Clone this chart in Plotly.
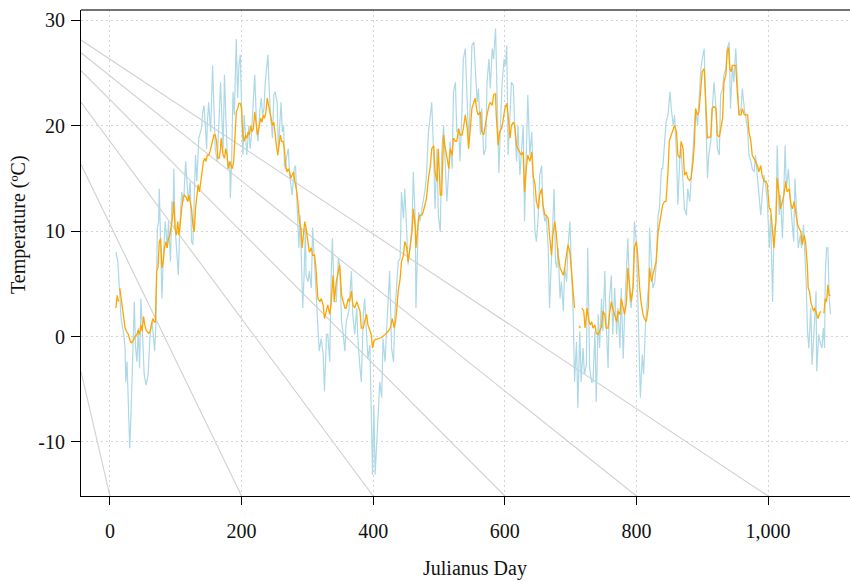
import plotly.graph_objects as go

# ---------------- data ----------------
blue_days = [9,12,17,19,21,23,24,26,27,28,30,32,34,35,37,39,41,43,45,47,49,52,55,58,61,64,68,70,72,74,75,77,79,81,84,87,89,92,94,96,97,99,101,104,106,109,112,115,119,122,124,126,128,130,132,135,139,141,143,145,147,148,150,153,156,160,163,166,168,172,174,176,179,182,183,185,187,189,190,192,194,196,198,200,202,204,206,208,211,213,215,220,223,225,228,230,232,234,236,239,240,242,244,247,249,251,254,256,258,260,262,264,265,267,268,271,273,275,277,280,282,285,287,289,291,293,295,297,
             298,301,303,306,308,311,313,316,318,321,324,326,329,331,334,336,338,341,344,347,349,352,354,357,359,363,367,369,372,375,377,380,382,385,387,390,392,395,397,399,401,403,405,408,410,413,415,418,420,423,425,428,431,433,436,438,441,443,446,448,451,453,456,459,461,464,465,467,469,471,474,476,479,481,484,487,489,492,494,497,499,502,504,507,509,512,515,517,520,522,525,527,530,532,535,537,540,543,545,548,550,553,555,558,560,563,565,568,571,573,576,578,581,583,586,588,
             591,594,596,599,601,603,605,608,610,613,615,618,620,623,625,628,630,633,635,638,641,643,646,648,651,653,656,658,661,663,666,668,671,673,675,677,679,681,684,686,689,691,694,696,699,701,704,706,709,711,714,716,719,721,724,726,728,729,732,734,737,739,742,744,747,749,752,754,757,759,762,764,767,770,772,775,777,780,782,785,787,790,792,795,797,800,802,805,806,809,811,814,816,819,820,823,825,828,830,833,835,838,840,843,845,848,851,853,856,858,861,863,866,868,871,873,876,878,881,883,886,
             890,893,895,898,900,903,905,908,910,913,916,918,921,923,926,928,931,933,936,938,941,943,946,948,951,954,956,959,961,964,966,969,971,974,976,979,981,984,986,989,992,994,997,999,1002,1004,1007,1009,1012,1014,1017,1019,1022,1024,1026,1028,1031,1034,1036,1039,1041,1044,1046,1049,1051,1054,1056,1058,1060,1062,1065,1067,1070,1073,1074,1077,1079,1082,1084,1086,1087,1089,1091,1093,1095]
blue_temp = [8.0,7.1,1.7,1.1,0.2,-1.1,-4.3,-2.4,-4.3,-7.4,-10.6,-7.4,-4.3,-1.1,3.3,-1.1,-2.4,0.8,-3.0,3.6,1.1,-3.6,-4.6,-3.6,0.2,1.4,-1.4,1.4,10.3,10.9,14.0,9.6,3.6,7.4,10.9,8.4,10.9,7.1,12.8,12.1,15.9,10.3,8.4,5.8,10.3,13.7,12.8,16.6,12.8,14.7,9.0,8.7,12.8,17.2,14.7,18.8,19.7,21.3,21.9,19.7,17.8,20.3,22.2,19.4,25.7,17.8,16.6,21.0,24.1,17.8,24.8,21.0,15.9,16.6,13.1,16.9,23.2,21.0,24.8,28.2,22.6,25.7,26.7,21.0,17.2,21.0,18.5,17.2,20.0,17.8,19.1,24.8,19.7,18.5,21.6,22.6,21.0,21.6,24.1,26.0,26.7,23.5,21.0,18.8,22.9,23.2,22.2,17.8,19.7,22.2,19.4,20.0,16.2,15.9,16.9,17.8,15.3,14.0,13.4,15.9,16.2,11.5,8.4,11.5,5.8,2.7,5.8,10.3,
             5.8,5.2,6.2,4.6,10.3,6.5,4.6,0.8,-1.4,-0.2,-1.7,-5.2,0.2,0.2,-2.4,5.2,9.3,3.3,3.3,7.4,6.8,1.4,0.5,-1.4,1.4,2.4,6.2,2.1,0.2,2.7,-0.5,-3.0,-4.3,2.1,3.6,0.2,-2.1,-0.8,-7.4,-13.1,-6.5,-13.1,-10.6,-7.4,-4.3,-5.8,-0.2,-2.4,0.5,3.3,6.2,-1.1,-2.4,2.1,4.6,7.1,7.4,13.7,11.2,14.0,9.9,6.8,8.4,10.6,15.6,10.9,2.7,8.4,11.8,10.9,12.1,12.8,14.0,15.3,19.4,21.0,22.2,17.2,12.1,17.8,11.5,9.9,17.2,20.0,16.6,12.8,15.9,18.5,15.9,23.2,24.1,19.4,19.7,16.6,21.6,26.3,27.3,21.0,18.5,22.6,27.6,27.9,25.7,22.2,23.5,19.1,21.6,17.2,17.8,24.1,26.3,23.5,27.3,26.3,29.2,22.2,
             15.5,21.0,24.1,26.3,25.7,27.6,17.2,21.0,24.1,23.8,20.0,16.6,20.0,15.3,17.5,20.0,10.9,17.8,22.9,17.2,19.4,15.3,9.9,9.0,11.5,15.3,16.2,12.1,10.9,11.5,8.4,2.7,8.4,11.5,14.0,7.1,6.5,8.4,3.6,5.2,2.4,6.5,5.2,8.4,10.9,6.8,2.1,-4.3,-0.5,-6.8,0.5,-4.3,-1.1,-3.6,-2.7,8.4,-1.1,-3.0,-4.3,-4.3,0.5,-6.2,2.1,-1.1,3.6,0.5,6.2,1.4,-3.0,3.6,5.8,0.2,4.6,0.2,2.7,-1.1,4.6,-2.1,2.1,5.8,9.3,3.6,2.7,5.2,10.9,9.0,3.3,-2.7,-5.8,-1.7,-3.6,1.4,3.0,5.2,10.3,6.5,4.6,5.2,6.8,11.5,12.1,15.9,15.9,18.5,20.3,21.0,23.2,21.6,20.0,21.0,17.2,12.5,16.9,17.8,14.7,12.1,11.5,14.0,12.8,14.7,18.5,
             21.6,20.0,22.2,25.4,26.3,27.3,22.2,15.0,17.2,18.5,22.2,24.1,21.6,17.8,17.2,22.9,23.5,24.8,25.4,27.3,27.9,21.6,25.7,24.1,27.3,22.9,21.0,21.6,23.5,21.6,20.7,19.7,17.2,16.6,15.9,15.6,17.2,15.0,14.0,11.5,14.0,15.3,14.0,12.8,8.4,11.5,3.3,9.9,10.9,18.1,11.5,13.4,9.3,14.7,18.1,14.0,15.9,12.8,11.5,9.0,15.0,11.5,8.4,9.6,8.4,10.6,8.4,5.2,0.5,-1.1,2.7,-2.7,0.5,4.3,-3.3,0.2,-0.5,-1.1,0.8,-1.1,5.8,8.4,8.4,3.6,2.1]

orange_days = [9,11,13,None,15,17,19,21,23,25,28,31,33,36,38,41,43,45,47,49,51,53,55,59,61,63,65,67,69,71,73,75,77,79,81,83,85,87,89,91,93,95,97,99,101,103,105,107,109,111,113,116,118,120,122,124,126,128,130,132,134,136,138,140,142,144,146,148,150,152,154,156,158,160,162,164,166,168,169,172,174,176,178,180,182,184,186,188,190,192,194,196,198,200,202,204,206,208,210,212,214,216,218,220,222,224,227,229,231,233,235,237,239,241,243,245,247,249,251,253,255,257,259,261,263,265,267,269,271,273,275,277,279,281,284,286,288,290,292,294,
               296,298,301,303,306,308,311,313,316,319,321,324,326,329,331,334,336,339,341,344,347,349,352,354,357,359,362,364,367,369,372,375,377,380,382,385,387,390,392,395,397,399,401,403,408,413,418,423,426,429,432,434,436,438,441,443,446,448,451,453,456,459,461,464,465,467,469,471,474,476,479,481,484,487,489,492,494,497,499,502,504,507,509,512,515,517,520,522,525,527,530,532,535,537,540,543,545,548,550,553,555,558,560,563,565,568,570,573,576,578,581,583,586,
               587,590,592,595,597,600,603,605,608,610,613,615,618,620,623,625,628,630,633,635,638,641,643,646,648,651,653,656,658,661,663,666,668,671,673,676,678,681,684,686,689,691,694,696,699,701,704,706,None,713,715,None,717,720,722,725,728,730,732,734,737,739,742,744,747,749,752,754,757,759,762,764,767,770,772,775,777,780,782,785,787,790,792,795,797,800,802,805,807,810,812,815,818,820,823,825,828,830,833,835,838,840,843,845,848,850,853,856,858,861,863,866,868,871,873,876,878,881,883,886,888,
               890,893,895,898,900,903,905,908,910,913,915,918,921,923,926,928,931,933,936,938,940,942,944,946,948,951,953,956,959,961,964,966,969,971,974,976,979,981,984,986,989,991,994,997,999,1002,1004,1007,1009,1012,1014,1017,1019,1022,1024,1027,1029,1032,1035,1037,1040,1042,1045,1047,1050,1052,1055,1057,1060,1061,1063,1065,1067,1069,1071,1074,1076,1078,1080,None,1085,1087,1089,1091,1093,1095]
orange_temp = [2.7,3.9,3.3,None,4.6,3.6,2.7,1.4,0.8,0.5,0.2,-0.5,-0.6,-0.3,0.0,0.2,0.6,0.2,1.1,0.5,1.9,1.1,0.6,0.3,0.5,1.1,1.7,1.4,1.4,6.2,6.5,9.0,9.3,6.5,7.1,8.4,9.0,8.4,9.3,9.6,10.3,11.2,12.8,10.3,9.6,10.9,9.6,11.2,12.1,13.1,13.4,13.2,12.8,13.4,12.8,12.1,10.6,9.9,12.1,13.4,14.4,13.7,14.7,15.6,16.6,16.9,16.6,17.2,17.2,17.5,18.1,18.8,19.1,19.1,18.5,16.9,16.9,17.8,18.8,17.2,16.9,17.8,17.2,15.9,16.6,16.2,15.9,16.6,19.4,21.3,21.6,22.1,22.1,21.6,19.1,18.5,19.1,18.8,19.4,19.1,20.0,19.4,19.7,21.3,20.3,19.1,20.0,20.7,20.3,21.0,20.7,21.3,22.6,21.9,21.0,20.3,20.0,20.3,18.8,18.1,17.2,18.5,19.1,18.5,18.5,17.8,16.2,15.6,15.9,15.6,15.0,15.3,15.6,14.7,13.7,12.5,10.9,10.3,8.4,9.6,
               10.9,10.3,9.0,8.0,8.4,7.7,7.7,6.5,3.6,3.3,3.6,3.0,1.7,2.7,3.0,2.1,3.0,5.8,3.3,5.2,6.2,6.8,3.9,3.3,2.7,2.7,3.6,3.3,4.3,3.0,2.7,3.3,3.0,2.4,0.8,0.8,1.4,2.1,1.1,0.5,0.2,-1.1,-0.5,-0.3,-0.2,-0.1,0.2,0.5,0.8,1.7,0.8,1.4,2.7,4.3,5.5,7.1,7.7,9.0,8.4,7.1,8.4,9.9,12.1,10.3,8.4,10.3,11.2,11.5,11.5,11.8,12.8,13.1,15.0,16.2,17.8,18.1,15.6,14.7,17.8,13.4,13.4,19.1,18.1,16.9,15.9,17.8,17.2,18.8,18.5,18.5,19.7,19.1,19.1,19.7,21.0,19.7,17.8,20.0,21.6,22.2,22.6,21.3,21.0,21.3,19.4,19.1,20.0,21.0,21.9,22.2,21.9,22.9,23.0,
               21.0,18.1,19.4,19.7,20.3,21.6,22.1,21.0,18.8,20.0,20.3,20.0,18.1,17.8,17.5,17.2,17.5,13.7,16.2,17.2,16.6,17.5,15.3,14.4,12.8,12.1,13.4,14.0,12.5,11.5,11.5,11.2,9.6,7.7,9.6,10.9,9.9,7.7,6.5,6.2,5.8,6.5,7.7,8.7,8.0,6.2,3.6,2.7,None,1.0,0.8,None,2.7,2.4,0.8,2.7,1.4,1.1,1.4,0.8,1.1,0.3,0.2,0.5,0.9,2.4,2.1,0.8,0.8,2.1,3.3,2.7,2.1,1.4,2.4,2.1,3.6,2.7,2.1,3.3,6.5,4.6,3.3,4.6,8.4,9.0,7.7,4.6,3.3,2.1,1.7,1.4,2.7,6.5,5.2,5.8,6.5,7.1,9.9,10.6,11.5,12.5,12.8,12.8,15.6,18.5,19.1,19.7,20.0,19.4,17.2,16.9,18.5,17.8,15.3,15.6,15.0,14.8,15.0,16.5,18.1,
               21.6,21.0,21.3,23.5,25.1,25.4,22.6,18.8,18.9,18.9,21.6,21.8,21.6,19.1,18.9,19.7,20.7,24.1,24.8,27.0,27.4,25.4,25.1,25.7,25.7,25.7,23.5,21.0,21.0,21.6,21.0,21.0,21.0,19.4,18.5,17.2,16.9,16.6,16.2,15.6,16.2,15.3,14.7,14.7,14.4,12.1,12.1,9.6,8.4,10.9,15.0,13.4,12.1,12.8,13.4,14.7,13.7,14.0,12.5,12.1,12.8,11.8,10.6,10.3,9.9,8.7,9.6,9.0,6.5,4.6,4.3,3.3,2.7,2.4,2.7,2.1,1.7,2.1,2.4,None,2.2,3.6,3.3,4.9,3.9,3.9]

# grey reference lines: each runs from the left edge down to the bottom edge
guide_end_day = [0, 200, 400, 600, 800, 1000]
guide_left_temp = [-3.3, 16.3, 22.2, 25.2, 26.9, 28.1]

x_ticks = [0, 200, 400, 600, 800, 1000]
x_tick_text = ["0", "200", "400", "600", "800", "1,000"]
y_ticks = [-10, 0, 10, 20, 30]
y_tick_text = ["-10", "0", "10", "20", "30"]

X_RANGE = [-44, 1124.6]
Y_RANGE = [-15.12, 30.95]

# ---------------- figure ----------------
FONT = "Liberation Serif, Times New Roman, serif"
fig = go.Figure()

for xe, yl in zip(guide_end_day, guide_left_temp):
    fig.add_trace(go.Scatter(x=[X_RANGE[0], xe], y=[yl, Y_RANGE[0]], mode="lines",
                             line=dict(color="#d0d0d0", width=1.1), hoverinfo="skip",
                             showlegend=False))

fig.add_trace(go.Scatter(x=blue_days, y=blue_temp, mode="lines",
                         line=dict(color="#add8e6", width=1.2), showlegend=False))
fig.add_trace(go.Scatter(x=orange_days, y=orange_temp, mode="lines",
                         line=dict(color="#ffa500", width=1.3), connectgaps=False,
                         showlegend=False))

fig.update_layout(
    width=850, height=581,
    margin=dict(l=81, r=0, t=10, b=85),
    paper_bgcolor="white", plot_bgcolor="white",
    font=dict(family=FONT, size=20, color="black"),
    showlegend=False,
)
fig.update_xaxes(range=X_RANGE, tickvals=x_ticks, ticktext=x_tick_text,
                 showgrid=True, gridcolor="#d3d3d3", griddash="2px,3px", gridwidth=1,
                 zeroline=False, showline=True, linecolor="black", linewidth=1,
                 ticks="outside", ticklen=8, tickcolor="black", tickwidth=1,
                 ticklabelstandoff=9, tickfont=dict(family=FONT, size=20, color="#111"))
fig.update_yaxes(range=Y_RANGE, tickvals=y_ticks, ticktext=y_tick_text,
                 showgrid=True, gridcolor="#d3d3d3", griddash="2px,3px", gridwidth=1,
                 zeroline=False, showline=True, linecolor="black", linewidth=1,
                 ticks="outside", ticklen=9, tickcolor="black", tickwidth=1,
                 ticklabelstandoff=2, tickfont=dict(family=FONT, size=20, color="#111"))

# top border
fig.add_shape(type="line", xref="paper", yref="paper", x0=0, x1=1, y0=1, y1=1,
              line=dict(color="#444444", width=1.5))

fig.add_annotation(text="Julianus Day", xref="paper", yref="paper",
                   x=(475 - 81) / (850 - 81), y=-(568 - 496) / 486, xanchor="center",
                   yanchor="middle", showarrow=False,
                   font=dict(family=FONT, size=20, color="#111"))
fig.add_annotation(text="Temperature (ºC)", xref="paper", yref="paper",
                   x=-(81 - 18) / 769, y=(496 - 225) / 486, xanchor="center",
                   yanchor="middle", textangle=-90, showarrow=False,
                   font=dict(family=FONT, size=20, color="#111"))

fig.write_html("out.html", config={"displayModeBar": False},
               post_script="document.body.style.margin='0';document.body.style.padding='0';")
